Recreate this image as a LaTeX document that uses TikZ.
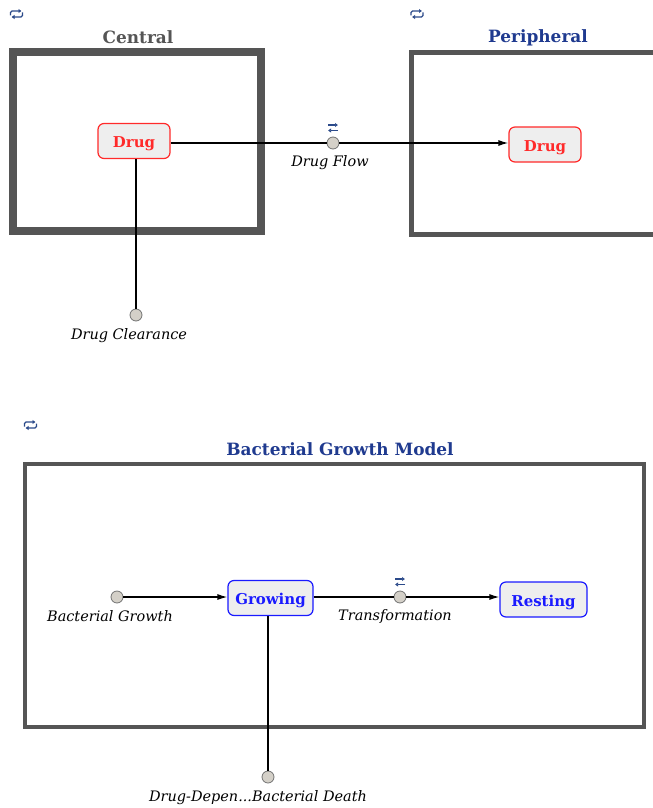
\documentclass[tikz,border=0pt]{standalone}
\usepackage{fontspec}
\setmainfont{DejaVu Serif}
\usetikzlibrary{arrows.meta}
\definecolor{grp}{HTML}{555555}
\definecolor{ttlblue}{HTML}{1F3A8F}
\definecolor{spred}{HTML}{FF2A2A}
\definecolor{spblue}{HTML}{1A1AFF}
\definecolor{spfill}{HTML}{EEEEEE}
\definecolor{rxfill}{HTML}{D4D0C8}
\definecolor{iconblue}{HTML}{2B4A8A}
\tikzset{
  comp/.style={draw=grp, inner sep=0pt},
  ttl/.style={font=\bfseries\fontsize{17}{20}\selectfont},
  species/.style={draw, rounded corners=6bp, fill=spfill, line width=1.2bp,
    minimum height=35bp, inner sep=0pt, text depth=0pt, text height=13bp,
    font=\bfseries\fontsize{15}{18}\selectfont},
  redsp/.style={species, draw=spred, text=spred},
  bluesp/.style={species, draw=spblue, text=spblue},
  rxn/.style={circle, draw=black!55, fill=rxfill, minimum size=12bp, inner sep=0pt, line width=0.8bp},
  lbl/.style={font=\itshape\fontsize{14.5}{16}\selectfont, inner sep=0pt},
  conn/.style={line width=1.3bp, draw=black},
  arr/.style={-{Latex[length=10bp,width=6bp]}},
  icon/.style={draw=iconblue, line width=1.1bp},
  iconarr/.style={icon, -{Latex[length=3bp,width=4.5bp]}},
}
\begin{document}
\begin{tikzpicture}[x=1bp,y=-1bp]
\useasboundingbox (0,0) rectangle (653,808);
% compartments
\node[comp, line width=8bp, minimum width=248bp, minimum height=178bp] (central) at (137,141.5) {};
\node[comp, line width=5bp, minimum width=258.5bp, minimum height=181.5bp] (periph) at (540.75,143.25) {};
\node[comp, line width=4.5bp, minimum width=619bp, minimum height=263bp] (bact) at (334.5,595.5) {};
% titles
\node[ttl, text=grp] (tcentral) at (138,37) {Central};
\node[ttl, text=ttlblue] (tperiph) at (538,38) {Peripheral};
\node[ttl, text=ttlblue] (tbact) at (340,449) {Bacterial Growth Model};
% group icons
\coordinate (ic1) at (16.5,14);
\coordinate (ic2) at (417,14);
\coordinate (ic3) at (30.5,425);
\foreach \n in {ic1, ic2, ic3}{
  \draw[iconarr, rounded corners=1.5bp] (\n) ++(-6,1.5) -- ++(0,-4.5) -- ++(11,0);
  \draw[iconarr, rounded corners=1.5bp] (\n) ++(6,-1.5) -- ++(0,4.5) -- ++(-11,0);
}
% species
\node[redsp, minimum width=72bp] (drugC) at (134,141) {Drug};
\node[redsp, minimum width=72bp] (drugP) at (545,144.5) {Drug};
\node[bluesp, minimum width=85bp] (growing) at (270.5,598) {Growing};
\node[bluesp, minimum width=87bp] (resting) at (543.5,599.5) {Resting};
% reactions
\node[rxn] (dflow) at (333,143) {};
\node[rxn] (dclear) at (136,315) {};
\node[rxn] (bgrowth) at (117,597) {};
\node[rxn] (transf) at (400,597) {};
\node[rxn] (death) at (268,777) {};
% reversible icons
\foreach \rr in {dflow, transf}{
  \draw[iconarr] (\rr.center) ++(-5,-18) -- ++(10,0);
  \draw[iconarr] (\rr.center) ++(5,-12.5) -- ++(-10,0);
}
% labels
\node[lbl] (ldflow) at (330,163) {Drug Flow};
\node[lbl] (ldclear) at (129,336) {Drug Clearance};
\node[lbl] (lbgrowth) at (110,616.5) {Bacterial Growth};
\node[lbl] (ltransf) at (395,617) {Transformation};
\node[lbl] (ldeath) at (258,798) {Drug-Depen...Bacterial Death};
% connectors
\draw[conn] (drugC.east |- dflow) -- (dflow);
\draw[conn, arr] (dflow) -- (dflow -| drugP.west);
\draw[conn] (drugC.south -| dclear) -- (dclear);
\draw[conn, arr] (bgrowth) -- (bgrowth -| growing.west);
\draw[conn] (growing.east |- transf) -- (transf);
\draw[conn, arr] (transf) -- (transf -| resting.west);
\draw[conn] (growing.south -| death) -- (death);
\end{tikzpicture}
\end{document}
